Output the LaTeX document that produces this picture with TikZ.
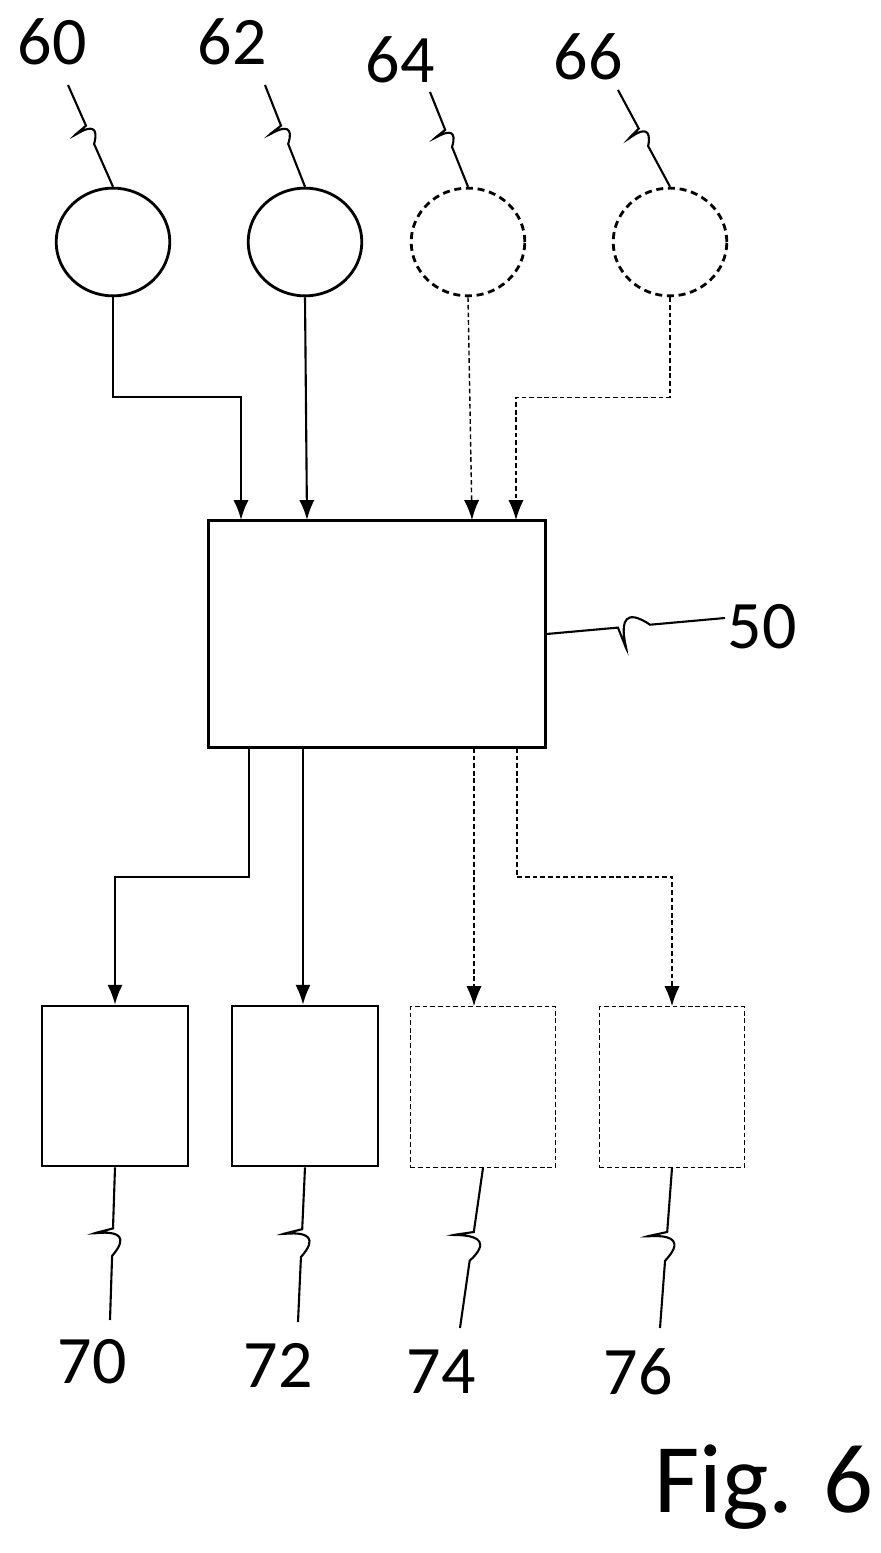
\documentclass[tikz,border=0pt]{standalone}
\usepackage{fontspec}
\setmainfont{Carlito}
\usetikzlibrary{calc,arrows.meta,shapes.geometric}
\tikzset{
  src/.style={draw,ellipse,line width=2.4pt,minimum width=97pt,minimum height=92pt,inner sep=0pt},
  opt/.style={src,dash pattern=on 6pt off 4pt},
  sink/.style={draw,rectangle,line width=1.8pt,minimum width=124pt,minimum height=137pt,inner sep=0pt},
  sinkopt/.style={sink,line width=1.2pt,dash pattern=on 4pt off 2.5pt},
  num/.style={font=\fontsize{58}{60}\selectfont,inner sep=0pt},
  wire/.style={line width=1.8pt,-{Latex[length=17pt,width=13pt]}},
  dwire/.style={wire,line width=1.2pt,dash pattern=on 4pt off 2.5pt},
  lead/.style={line width=1.8pt}
}
\newcommand{\squig}[2]{\draw[lead] (#1) -- ($(#1)!.4!(#2)$) .. controls ($(#1)!.62!-35:(#2)$) and ($(#1)!.38!35:(#2)$) .. ($(#1)!.58!(#2)$) -- (#2);}
\begin{document}
\begin{tikzpicture}[x=0.03cm,y=-0.03cm]
\useasboundingbox (0,0) rectangle (881,1553);
% sources
\node[src] (c60) at (113,242) {};
\node[src] (c62) at (305,242) {};
\node[opt] (c64) at (468,242) {};
\node[opt] (c66) at (670,242) {};
\node[num] (l60) at (52,42) {60};
\node[num] (l62) at (232,42) {62};
\node[num] (l64) at (400,60) {64};
\node[num] (l66) at (588,57) {66};
\squig{68,85}{c60.north}
\squig{265,85}{c62.north}
\squig{430,92}{c64.north}
\squig{618,90}{c66.north}
% central unit
\node[draw,rectangle,line width=2.4pt,minimum width=287pt,minimum height=194pt] (u50) at (377,634) {};
\node[num] (l50) at (762,627) {50};
\squig{u50.east}{725,618}
\coordinate (i1) at (241,520);
\coordinate (i2) at (307,520);
\coordinate (i3) at (472,520);
\coordinate (i4) at (516,520);
\draw[wire] (c60.south) -- ++(0,100) -| (i1);
\draw[wire] (c62.south) -- (i2);
\draw[dwire] (c64.south) -- (i3);
\draw[dwire] (c66.south) -- ++(0,100) -| (i4);
% outputs
\node[sink] (b70) at (115,1086) {};
\node[sink] (b72) at (305,1086) {};
\node[sinkopt] (b74) at (483,1087) {};
\node[sinkopt] (b76) at (672,1087) {};
\coordinate (o1) at (249,748);
\coordinate (o2) at (303,748);
\coordinate (o3) at (474,748);
\coordinate (o4) at (517,748);
\draw[wire] (o1) -- ++(0,129) -| (b70.north);
\draw[wire] (o2) -- (o2 |- b72.north);
\draw[dwire] (o3) -- (o3 |- b74.north);
\draw[dwire] (o4) -- ++(0,129) -| (b76.north);
\node[num] (l70) at (92,1362) {70};
\node[num] (l72) at (278,1365) {72};
\node[num] (l74) at (441,1372) {74};
\node[num] (l76) at (638,1372) {76};
\squig{b70.south}{110,1320}
\squig{b72.south}{298,1322}
\squig{b74.south}{460,1328}
\squig{b76.south}{660,1328}
\node[font=\fontsize{84}{86}\selectfont,inner sep=0pt] (fig) at (764,1487) {Fig. 6};
\end{tikzpicture}
\end{document}
